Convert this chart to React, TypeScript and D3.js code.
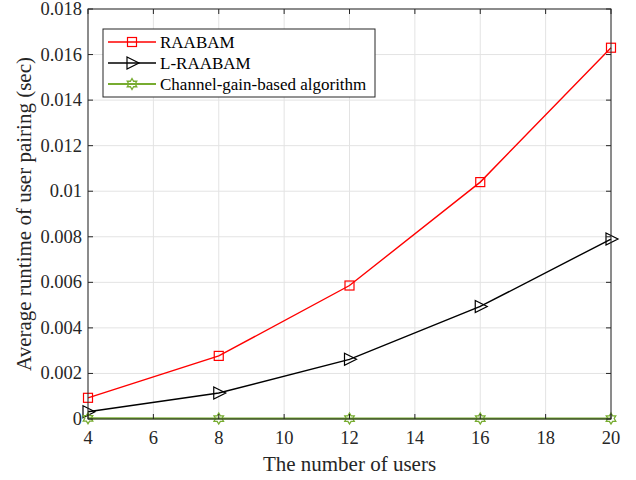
import React from "react";
import * as d3 from "d3";

const users = [4, 8, 12, 16, 20];
const raabam = [0.00093, 0.00277, 0.00586, 0.0104, 0.0163];
const lraabam = [0.00032, 0.00114, 0.00262, 0.00494, 0.0079];
const channelGain = [0.00003, 0.00002, 0.00002, 0.00002, 0.00002];
const xTicks = [4, 6, 8, 10, 12, 14, 16, 18, 20];
const yTicks = [0, 0.002, 0.004, 0.006, 0.008, 0.01, 0.012, 0.014, 0.016, 0.018];
const seriesNames = ["RAABAM", "L-RAABAM", "Channel-gain-based algorithm"];

const W = 636, H = 480;
const L = 88, R = 611, T = 9, B = 419;
const font = "'Liberation Serif', 'Times New Roman', serif";

function hexagram(cx: number, cy: number, r: number) {
  const pts: string[] = [];
  for (let i = 0; i < 12; i++) {
    const a = -Math.PI / 2 + (i * Math.PI) / 6;
    const rr = i % 2 === 0 ? r : r * 0.58;
    pts.push(`${cx + rr * Math.cos(a)},${cy + rr * Math.sin(a)}`);
  }
  return pts.join(" ");
}

function Marker({ kind, x, y, color }: { kind: number; x: number; y: number; color: string }) {
  if (kind === 0) return <rect x={x - 4.5} y={y - 4.5} width={9} height={9} fill="none" stroke={color} strokeWidth={1.2} />;
  if (kind === 1) return <polygon points={`${x - 5},${y - 6} ${x + 7},${y} ${x - 5},${y + 6}`} fill="none" stroke={color} strokeWidth={1.2} />;
  return <polygon points={hexagram(x, y, 5.5)} fill="none" stroke={color} strokeWidth={1.3} />;
}

export default function App() {
  const x = d3.scaleLinear().domain([4, 20]).range([L, R]);
  const y = d3.scaleLinear().domain([0, 0.018]).range([B, T]);
  const line = d3.line<number>().x((_, i) => x(users[i])).y((d) => y(d));
  const series = [
    { data: raabam, color: "#ff0000" },
    { data: lraabam, color: "#000000" },
    { data: channelGain, color: "#77ac30" },
  ];
  const axisColor = "#262626";
  return (
    <svg width={W} height={H} style={{ position: "absolute", left: 0, top: 0, background: "#fff" }}>
      <rect x={0} y={0} width={W} height={H} fill="#fff" />
      {xTicks.map((t) => (
        <line key={"gx" + t} x1={x(t)} x2={x(t)} y1={T} y2={B} stroke="#e3e3e3" strokeWidth={1} />
      ))}
      {yTicks.map((t) => (
        <line key={"gy" + t} x1={L} x2={R} y1={y(t)} y2={y(t)} stroke="#e3e3e3" strokeWidth={1} />
      ))}
      {series.map((s, k) => (
        <g key={k}>
          <path d={line(s.data) || ""} fill="none" stroke={s.color} strokeWidth={k === 2 ? 2 : 1.4} />
          {s.data.map((v, i) => (
            <Marker key={i} kind={k} x={x(users[i])} y={y(v)} color={s.color} />
          ))}
        </g>
      ))}
      <rect x={L} y={T} width={R - L} height={B - T} fill="none" stroke={axisColor} strokeWidth={1} />
      {xTicks.map((t) => (
        <g key={"tx" + t}>
          <line x1={x(t)} x2={x(t)} y1={B} y2={B - 5} stroke={axisColor} />
          <line x1={x(t)} x2={x(t)} y1={T} y2={T + 5} stroke={axisColor} />
          <text x={x(t)} y={B + 25} textAnchor="middle" fontFamily={font} fontSize={18.5} fill={axisColor}>{t}</text>
        </g>
      ))}
      {yTicks.map((t) => (
        <g key={"ty" + t}>
          <line x1={L} x2={L + 5} y1={y(t)} y2={y(t)} stroke={axisColor} />
          <line x1={R} x2={R - 5} y1={y(t)} y2={y(t)} stroke={axisColor} />
          <text x={L - 6} y={y(t) + 6} textAnchor="end" fontFamily={font} fontSize={18.5} fill={axisColor}>{t === 0 ? "0" : String(+t.toFixed(3))}</text>
        </g>
      ))}
      <text x={(L + R) / 2} y={471} textAnchor="middle" fontFamily={font} fontSize={21} fill={axisColor}>The number of users</text>
      <text transform={`translate(31,${(T + B) / 2}) rotate(-90)`} textAnchor="middle" fontFamily={font} fontSize={21} fill={axisColor}>Average runtime of user pairing (sec)</text>
      <g>
        <rect x={103} y={29} width={272} height={68} fill="#fff" stroke={axisColor} strokeWidth={1} />
        {seriesNames.map((n, k) => {
          const yy = 42 + k * 21;
          return (
            <g key={n}>
              <line x1={108} x2={156} y1={yy} y2={yy} stroke={series[k].color} strokeWidth={k === 2 ? 2 : 1.4} />
              <Marker kind={k} x={132} y={yy} color={series[k].color} />
              <text x={160} y={yy + 5.5} fontFamily={font} fontSize={17} fill="#000">{n}</text>
            </g>
          );
        })}
      </g>
    </svg>
  );
}
